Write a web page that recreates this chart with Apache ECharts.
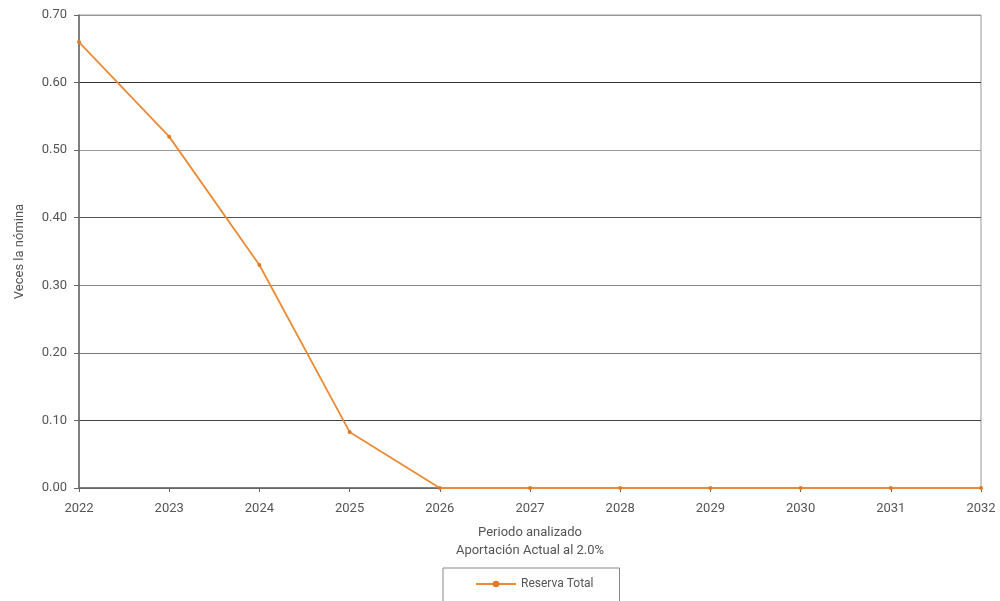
<!DOCTYPE html>
<html>
<head>
<meta charset="utf-8">
<script src="https://cdn.jsdelivr.net/npm/echarts@6/dist/echarts.min.js"></script>
<style>html,body{margin:0;padding:0;background:#fff;}#c{width:1000px;height:601px;}</style>
</head>
<body>
<div id="c"></div>
<script>
const years = ['2022','2023','2024','2025','2026','2027','2028','2029','2030','2031','2032'];
const reservaTotal = [0.66, 0.52, 0.33, 0.083, 0, 0, 0, 0, 0, 0, 0];
const seriesName = 'Reserva Total';
const xAxisTitle = 'Periodo analizado\nAportación Actual al 2.0%';
const yAxisTitle = 'Veces la nómina';

const chart = echarts.init(document.getElementById('c'));
const font = 'Roboto, "Liberation Sans", sans-serif';
chart.setOption({
  animation: false,
  textStyle: { fontFamily: font },
  grid: { left: 79, right: 19, top: 15, bottom: 113, show: true, borderColor: '#999', borderWidth: 1 },
  legend: {
    data: [seriesName],
    left: 443, top: 568,
    padding: [10, 26, 14, 32],
    borderColor: '#888', borderWidth: 1,
    itemWidth: 40, itemHeight: 8, itemGap: 4,
    textStyle: { fontSize: 12, color: '#555', fontFamily: font }
  },
  xAxis: {
    type: 'category', data: years, boundaryGap: false,
    name: xAxisTitle, nameLocation: 'middle', nameGap: 36,
    nameTextStyle: { fontSize: 13, color: '#555', lineHeight: 18, fontFamily: font },
    axisLine: { lineStyle: { color: '#666', width: 1.5 } },
    axisTick: { show: true, alignWithLabel: true, length: 4, lineStyle: { color: '#666' } },
    axisLabel: { fontSize: 13, color: '#555', margin: 14, fontFamily: font },
    splitLine: { show: false }
  },
  yAxis: {
    type: 'value', min: 0, max: 0.7, interval: 0.1,
    name: yAxisTitle, nameLocation: 'middle', nameGap: 53, nameRotate: 90,
    nameTextStyle: { fontSize: 13, color: '#555', fontFamily: font },
    axisLine: { show: true, lineStyle: { color: '#666', width: 1.5 } },
    axisTick: { show: true, length: 5, lineStyle: { color: '#666' } },
    axisLabel: { fontSize: 13, color: '#555', margin: 12, formatter: v => v.toFixed(2), fontFamily: font },
    splitLine: { show: true, lineStyle: { width: 1.2, color: ['#777', '#444', '#777', '#888', '#555', '#999', '#333', '#999'] } }
  },
  series: [{
    name: seriesName, type: 'line', data: reservaTotal,
    symbol: 'circle', symbolSize: 4, showSymbol: true,
    lineStyle: { color: '#EA8B35', width: 1.8 },
    itemStyle: { color: '#E07A25' }
  }]
});
</script>
</body>
</html>
